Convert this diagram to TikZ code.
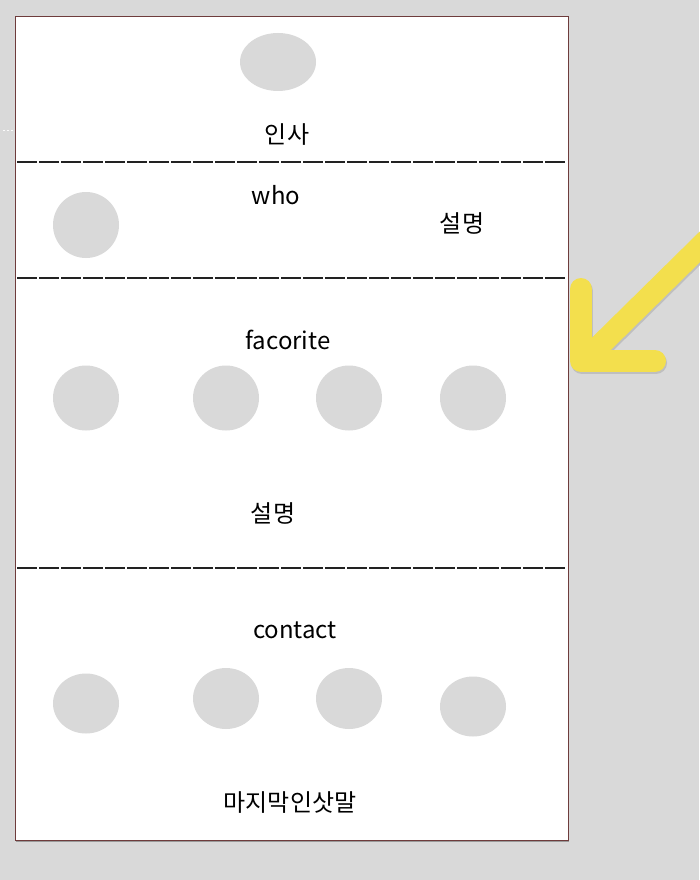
\documentclass[tikz,border=0pt]{standalone}
\usepackage{fontspec}
\setmainfont{Noto Sans CJK KR}
\definecolor{bg}{RGB}{217,217,217}
\definecolor{dot}{RGB}{217,217,217}
\definecolor{frame}{RGB}{110,60,60}
\definecolor{dashc}{RGB}{34,34,34}
\definecolor{arrowy}{RGB}{243,223,77}
\begin{document}
\begin{tikzpicture}[x=1pt,y=-1pt,
  circ/.style={fill=dot,draw=none},
  lbl/.style={font=\fontsize{24}{28}\selectfont,inner sep=0pt,text=black},
  sep/.style={draw=dashc,line width=2.2pt,dash pattern=on 19.5pt off 2.5pt},
  arr/.style={draw=arrowy,line width=22pt,line cap=round,line join=round}]
\useasboundingbox (0,0) rectangle (699,880);
\fill[bg] (0,0) rectangle (699,880);
% tiny marks
\fill[white!90!bg] (3,129.5) rectangle (5,131);
\fill[white!90!bg] (7,129.5) rectangle (9,131);
\fill[white!90!bg] (11,129.5) rectangle (13,131);
% page shadow and page
\fill[gray!70!bg] (16,837) rectangle (569,842);
\filldraw[fill=white,draw=frame,line width=1pt] (15,17) rectangle (568,840);
% separators
\coordinate (s1a) at (17,162); \coordinate (s1b) at (566,162);
\coordinate (s2a) at (17,278); \coordinate (s2b) at (566,278);
\coordinate (s3a) at (17,568); \coordinate (s3b) at (566,568);
\draw[sep] (s1a) -- (s1b);
\draw[sep] (s2a) -- (s2b);
\draw[sep] (s3a) -- (s3b);
% top
\fill[circ] (278,62) ellipse [x radius=38, y radius=29];
\node[lbl] (t1) at (287,135) {인사};
% who
\fill[circ] (86,225) ellipse [x radius=33, y radius=33];
\node[lbl] (t2) at (276,195) {who};
\node[lbl] (t3) at (462,223) {설명};
% favorite
\node[lbl] (t4) at (288,340) {facorite};
\fill[circ] (86,398) ellipse [x radius=33, y radius=32.5];
\fill[circ] (226,398) ellipse [x radius=33, y radius=32.5];
\fill[circ] (349,398) ellipse [x radius=33, y radius=32.5];
\fill[circ] (473,398) ellipse [x radius=33, y radius=32.5];
\node[lbl] (t5) at (273,513) {설명};
% contact
\node[lbl] (t6) at (295,630) {contact};
\fill[circ] (86,703.5) ellipse [x radius=33, y radius=30];
\fill[circ] (226,698.5) ellipse [x radius=33, y radius=30.5];
\fill[circ] (349,698.5) ellipse [x radius=33, y radius=30.5];
\fill[circ] (473,706.5) ellipse [x radius=33, y radius=30];
\node[lbl] (t7) at (290,803) {마지막인삿말};
% arrow
\coordinate (a0) at (720,227);
\coordinate (a1) at (588,357);
\coordinate (h1) at (581,289);
\coordinate (h2) at (581,361);
\coordinate (h3) at (655,361);
\draw[arr,draw=black!25] ([shift={(1,2)}]a0) -- ([shift={(1,2)}]a1);
\draw[arr,draw=black!25] ([shift={(1,2)}]h1) -- ([shift={(1,2)}]h2) -- ([shift={(1,2)}]h3);
\draw[arr] (a0) -- (a1);
\draw[arr] (h1) -- (h2) -- (h3);
\end{tikzpicture}
\end{document}
